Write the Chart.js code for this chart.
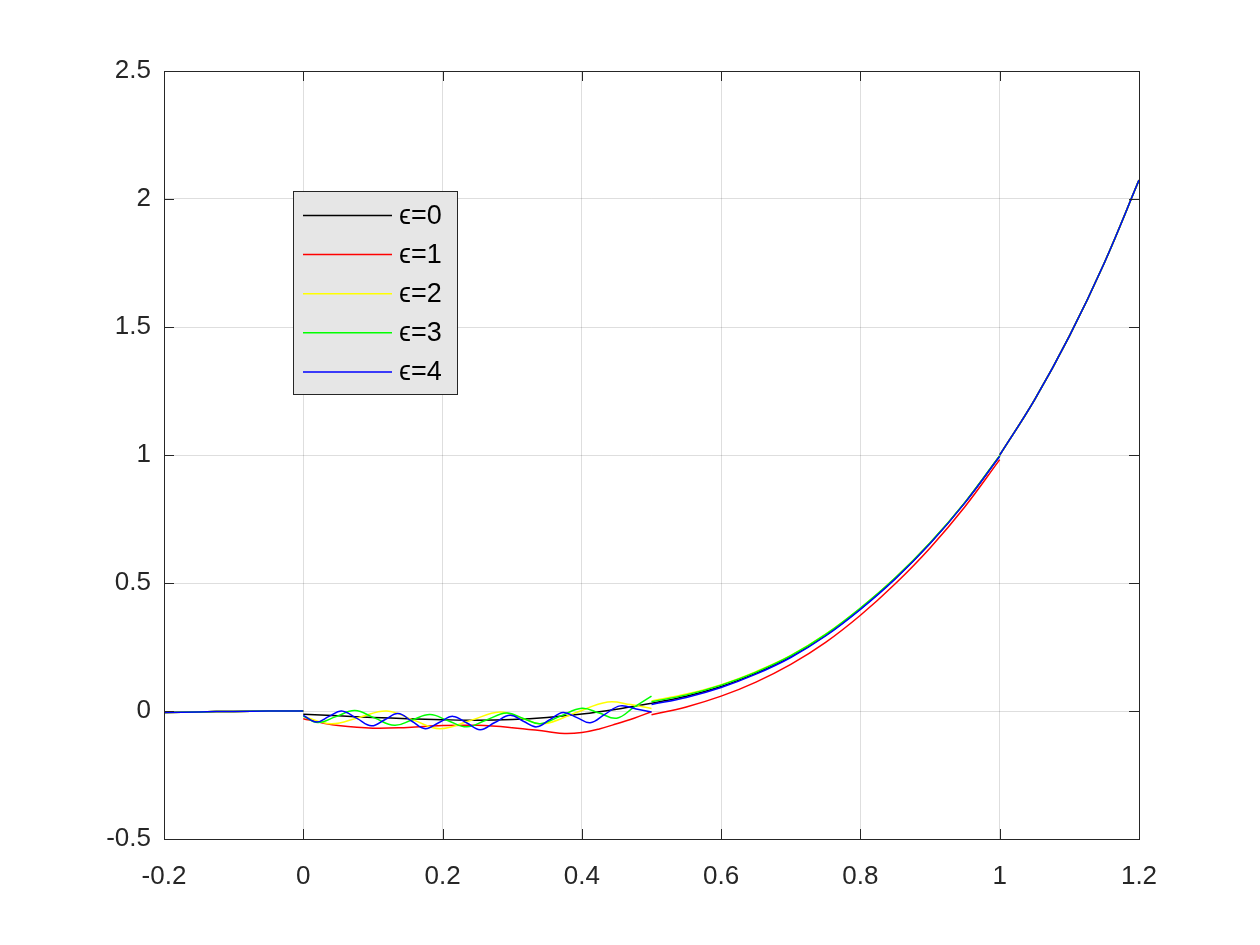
<!DOCTYPE html>
<html>
<head>
<meta charset="utf-8">
<script src="https://cdn.jsdelivr.net/npm/chart.js@4.4.0/dist/chart.umd.min.js"></script>
<style>
html,body{margin:0;padding:0;background:#fff;}
#c{display:block;}
</style>
</head>
<body>
<canvas id="c" width="1260" height="945"></canvas>
<script>
// ---------- data ----------
const seriesLabels = ["ϵ=0", "ϵ=1", "ϵ=2", "ϵ=3", "ϵ=4"];
const seriesColors = ["#000000", "#ff0000", "#ffff00", "#00ff00", "#0000ff"];

const xTicks = [-0.2, 0, 0.2, 0.4, 0.6, 0.8, 1, 1.2];
const xTickLabels = ["-0.2", "0", "0.2", "0.4", "0.6", "0.8", "1", "1.2"];
const yTicks = [-0.5, 0, 0.5, 1, 1.5, 2, 2.5];
const yTickLabels = ["-0.5", "0", "0.5", "1", "1.5", "2", "2.5"];

// piece on [-0.2, 0] (same for all series)
const leftX = [-0.2, -0.15, -0.1, -0.05, 0];
const leftY = [-0.0055, -0.0035, -0.0015, -0.0004, 0];

// piece on [0, 0.5]
const blackMidX = [0, 0.05, 0.1, 0.15, 0.2, 0.25, 0.3, 0.35, 0.4, 0.45, 0.5];
const blackMidY = [-0.013, -0.019, -0.025, -0.03, -0.034, -0.036, -0.033, -0.025, -0.012, 0.007, 0.03];

const redMidX = [0, 0.025, 0.05, 0.1, 0.15, 0.2, 0.25, 0.3, 0.35, 0.375, 0.4, 0.425, 0.45, 0.475, 0.5];
const redMidY = [-0.03, -0.045, -0.057, -0.067, -0.064, -0.057, -0.056, -0.065, -0.08, -0.088, -0.084, -0.07, -0.05, -0.028, -0.003];

const yellowMidX = [0, 0.04, 0.08, 0.12, 0.158, 0.196, 0.24, 0.282, 0.313, 0.345, 0.39, 0.437, 0.47, 0.5];
const yellowMidY = [-0.02, -0.05, -0.025, 0.0, -0.035, -0.069, -0.037, -0.004, -0.027, -0.05, -0.008, 0.035, 0.025, 0.01];

const greenMidX = [0, 0.021, 0.047, 0.074, 0.102, 0.131, 0.156, 0.182, 0.208, 0.235, 0.263, 0.292, 0.316, 0.34, 0.37, 0.4, 0.425, 0.45, 0.475, 0.5];
const greenMidY = [-0.02, -0.045, -0.022, 0.002, -0.027, -0.056, -0.035, -0.014, -0.038, -0.062, -0.035, -0.008, -0.029, -0.05, -0.019, 0.011, -0.008, -0.028, 0.015, 0.058];

const blueMidX = [0, 0.019, 0.037, 0.055, 0.077, 0.098, 0.117, 0.136, 0.156, 0.175, 0.195, 0.215, 0.235, 0.254, 0.275, 0.297, 0.316, 0.335, 0.354, 0.373, 0.393, 0.412, 0.433, 0.455, 0.478, 0.5];
const blueMidY = [-0.017, -0.043, -0.021, 0.0, -0.029, -0.058, -0.034, -0.01, -0.04, -0.069, -0.045, -0.021, -0.047, -0.073, -0.045, -0.017, -0.04, -0.062, -0.034, -0.006, -0.026, -0.046, -0.013, 0.02, 0.008, -0.004];

// piece on [0.5, 1]
const upperX = [0.5, 0.55, 0.6, 0.65, 0.7, 0.75, 0.8, 0.85, 0.9, 0.95, 1.0];
const blackUpperY = [0.03, 0.058, 0.096, 0.148, 0.212, 0.296, 0.399, 0.518, 0.655, 0.814, 0.996];
const redUpperY = [-0.015, 0.016, 0.058, 0.113, 0.182, 0.268, 0.374, 0.497, 0.637, 0.798, 0.982];
const yellowUpperY = [0.039, 0.066, 0.103, 0.154, 0.217, 0.3, 0.402, 0.52, 0.657, 0.815, 0.997];
const greenUpperY = [0.036, 0.063, 0.101, 0.152, 0.216, 0.299, 0.402, 0.52, 0.657, 0.815, 0.997];
const blueUpperY = [0.025, 0.053, 0.092, 0.144, 0.209, 0.293, 0.397, 0.516, 0.654, 0.813, 0.995];

// piece on [1, 1.2] (same for all series)
const tailX = [1.0, 1.05, 1.1, 1.15, 1.2];
const tailY = [1.0, 1.2155, 1.4641, 1.749, 2.0736];

const midXs = [blackMidX, redMidX, yellowMidX, greenMidX, blueMidX];
const midYs = [blackMidY, redMidY, yellowMidY, greenMidY, blueMidY];
const upperYs = [blackUpperY, redUpperY, yellowUpperY, greenUpperY, blueUpperY];

// ---------- build datasets ----------
function pts(xs, ys) { return xs.map((x, i) => ({ x: x, y: ys[i] })); }
function buildData(k) {
  return [].concat(
    pts(leftX, leftY), [{ x: 0, y: null }],
    pts(midXs[k], midYs[k]), [{ x: 0.5, y: null }],
    pts(upperX, upperYs[k]), [{ x: 1, y: null }],
    pts(tailX, tailY)
  );
}
const datasets = seriesLabels.map((lab, k) => ({
  label: lab,
  data: buildData(k),
  order: seriesLabels.length - 1 - k,   // later series drawn on top
  borderColor: seriesColors[k],
  backgroundColor: seriesColors[k],
  borderWidth: 1.5,
  pointRadius: 0,
  pointHoverRadius: 0,
  fill: false,
  spanGaps: false,
  tension: 0.4
}));

const AXIS_COLOR = '#262626';
const FONT = 'Arial, "Liberation Sans", Helvetica, sans-serif';

// box + inward ticks (MATLAB style)
const boxPlugin = {
  id: 'boxPlugin',
  afterDatasetsDraw(chart) {
    const { ctx, chartArea: a, scales } = chart;
    ctx.save();
    ctx.strokeStyle = AXIS_COLOR;
    ctx.lineWidth = 1;
    const L = 10;
    ctx.beginPath();
    xTicks.forEach(v => {
      const px = Math.round(scales.x.getPixelForValue(v)) + 0.5;
      ctx.moveTo(px, a.bottom); ctx.lineTo(px, a.bottom - L);
      ctx.moveTo(px, a.top); ctx.lineTo(px, a.top + L);
    });
    yTicks.forEach(v => {
      const py = Math.round(scales.y.getPixelForValue(v)) + 0.5;
      ctx.moveTo(a.left, py); ctx.lineTo(a.left + L, py);
      ctx.moveTo(a.right, py); ctx.lineTo(a.right - L, py);
    });
    ctx.stroke();
    ctx.strokeRect(Math.round(a.left) + 0.5, Math.round(a.top) + 0.5,
                   Math.round(a.right - a.left), Math.round(a.bottom - a.top));
    ctx.restore();
  }
};

// legend drawn inside the axes
const legendPlugin = {
  id: 'innerLegend',
  afterDatasetsDraw(chart) {
    const { ctx } = chart;
    const bx = 293.5, by = 191.5, bw = 164, bh = 203;
    ctx.save();
    ctx.fillStyle = '#e6e6e6';
    ctx.fillRect(bx, by, bw, bh);
    ctx.strokeStyle = AXIS_COLOR;
    ctx.lineWidth = 1;
    ctx.strokeRect(bx, by, bw, bh);
    const rowY0 = 215.5, rowStep = 39.1;
    ctx.font = '27px ' + FONT;
    ctx.textBaseline = 'middle';
    ctx.textAlign = 'left';
    chart.data.datasets.forEach((ds, i) => {
      const y = rowY0 + i * rowStep;
      ctx.strokeStyle = ds.borderColor;
      ctx.lineWidth = 1.5;
      ctx.beginPath();
      ctx.moveTo(303, y); ctx.lineTo(392, y);
      ctx.stroke();
      ctx.fillStyle = '#000000';
      ctx.fillText(ds.label, 399, y + 1);
    });
    ctx.restore();
  }
};

new Chart(document.getElementById('c'), {
  type: 'line',
  data: { datasets: datasets },
  plugins: [boxPlugin, legendPlugin],
  options: {
    responsive: false,
    devicePixelRatio: 1,
    animation: false,
    events: [],
    layout: { padding: { left: 0, top: 71, right: 121, bottom: 0 } },
    plugins: { legend: { display: false }, tooltip: { enabled: false } },
    scales: {
      x: {
        type: 'linear',
        min: -0.2, max: 1.2,
        afterBuildTicks(scale) { scale.ticks = xTicks.map(v => ({ value: v })); },
        afterFit(scale) { scale.height = 106; },
        ticks: {
          autoSkip: false, maxRotation: 0,
          color: AXIS_COLOR,
          font: { family: FONT, size: 26 },
          padding: 22,
          callback: (v) => { const i = xTicks.indexOf(v); return i >= 0 ? xTickLabels[i] : ''; }
        },
        grid: { color: 'rgba(0,0,0,0.13)', drawTicks: false, lineWidth: 1 },
        border: { display: false }
      },
      y: {
        type: 'linear',
        min: -0.5, max: 2.5,
        afterBuildTicks(scale) { scale.ticks = yTicks.map(v => ({ value: v })); },
        afterFit(scale) { scale.width = 164; },
        ticks: {
          autoSkip: false,
          color: AXIS_COLOR,
          font: { family: FONT, size: 26 },
          padding: 13,
          callback: (v) => { const i = yTicks.indexOf(v); return i >= 0 ? yTickLabels[i] : ''; }
        },
        grid: { color: 'rgba(0,0,0,0.13)', drawTicks: false, lineWidth: 1 },
        border: { display: false }
      }
    }
  }
});
</script>
</body>
</html>
